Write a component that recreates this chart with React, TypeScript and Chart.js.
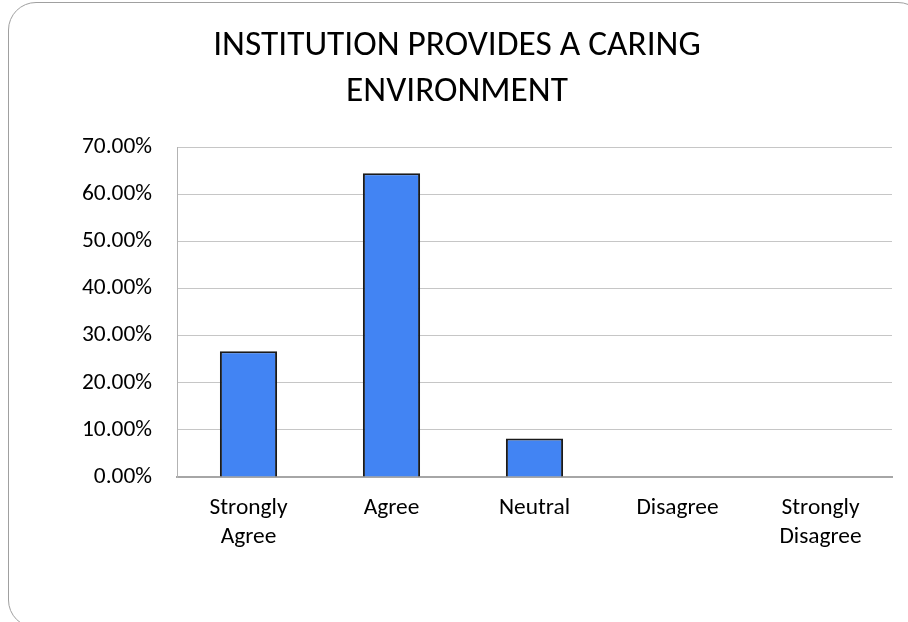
import React, { useEffect, useRef } from "react";
import { Chart, registerables } from "chart.js";

Chart.register(...registerables);

const titleLines = ["INSTITUTION PROVIDES A CARING", "ENVIRONMENT"];
const categories: string[][] = [
  ["Strongly", "Agree"],
  ["Agree"],
  ["Neutral"],
  ["Disagree"],
  ["Strongly", "Disagree"],
];
const percentages = [26.67, 64.44, 8.15, 0, 0];
const yMin = 0;
const yMax = 70;
const yStep = 10;

const FONT = "Carlito, Lato, 'Open Sans', sans-serif";

export default function App() {
  const canvasRef = useRef<HTMLCanvasElement | null>(null);

  useEffect(() => {
    const canvas = canvasRef.current;
    if (!canvas) return;
    const chart = new Chart(canvas, {
      type: "bar",
      data: {
        labels: categories,
        datasets: [
          {
            data: percentages,
            backgroundColor: "#4284F3",
            borderColor: "#1a1a1a",
            borderWidth: 2,
            barPercentage: 0.4,
            categoryPercentage: 1,
          },
        ],
      },
      options: {
        responsive: false,
        animation: false,
        devicePixelRatio: 1,
        layout: { padding: { left: 22, right: 16, top: 0, bottom: 0 } },
        plugins: {
          legend: { display: false },
          tooltip: { enabled: false },
          title: {
            display: true,
            text: titleLines,
            color: "#000",
            font: { family: FONT, size: 35.4, weight: "normal", lineHeight: 1.3 },
            padding: { top: 23, bottom: 32 },
          },
        },
        scales: {
          x: {
            grid: { display: false, drawTicks: false },
            border: { display: true, color: "#a6a6a6", width: 2 },
            ticks: {
              color: "#000",
              font: { family: FONT, size: 23.4, lineHeight: 1.24 },
              padding: 17,
              maxRotation: 0,
              autoSkip: false,
            },
            afterFit: (scale: any) => {
              scale.height = 145;
            },
          },
          y: {
            min: yMin,
            max: yMax,
            grid: { color: "#c6c6c6", lineWidth: 1, drawTicks: false },
            border: { display: true, color: "#b3b3b3", width: 1 },
            ticks: {
              stepSize: yStep,
              color: "#000",
              font: { family: FONT, size: 23.4 },
              padding: 25,
              callback: (v: any) => Number(v).toFixed(2) + "%",
            },
            afterFit: (scale: any) => {
              scale.width = 155;
            },
          },
        },
      },
    });
    return () => chart.destroy();
  }, []);

  return (
    <div
      style={{
        position: "fixed",
        left: 0,
        top: 0,
        width: 908,
        height: 622,
        overflow: "hidden",
        background: "#fff",
      }}
    >
      <div
        style={{
          position: "absolute",
          left: 8,
          top: 2,
          width: 918,
          height: 626,
          border: "1.5px solid #a0a0a0",
          borderRadius: 28,
          boxSizing: "border-box",
        }}
      />
      <canvas
        ref={canvasRef}
        width={908}
        height={622}
        style={{ position: "absolute", left: 0, top: 0, width: 908, height: 622 }}
      />
    </div>
  );
}
